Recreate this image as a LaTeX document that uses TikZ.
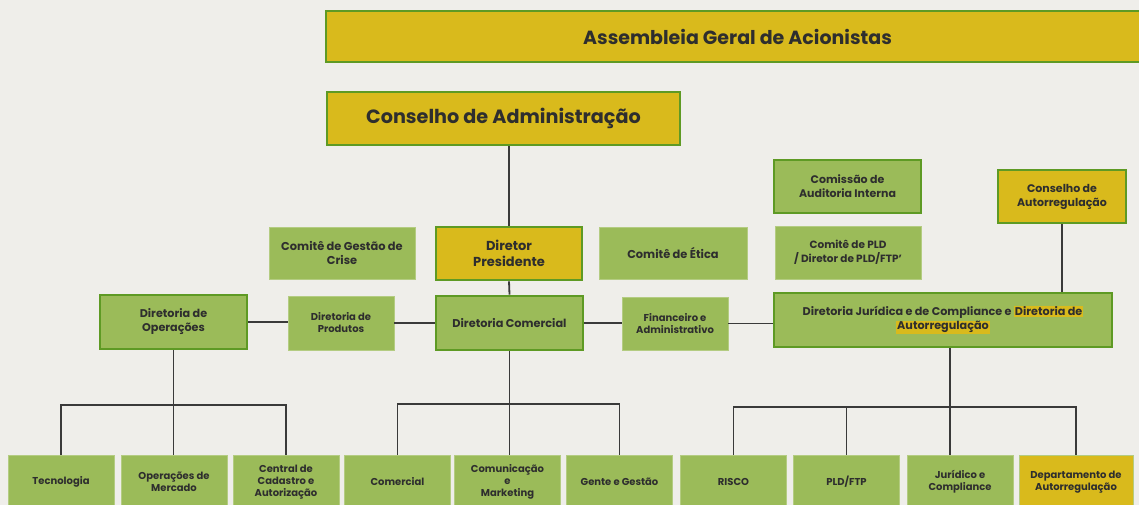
\documentclass[tikz,border=0pt]{standalone}
\usepackage{fontspec}
\setmainfont{Poppins}
\usepackage{xcolor}
\definecolor{fundo}{HTML}{EFEEEA}
\definecolor{verde}{HTML}{9BBB59}
\definecolor{verdeescuro}{HTML}{5E9A24}
\definecolor{ouro}{HTML}{D9BA1C}
\definecolor{texto}{HTML}{2E2E2E}
\definecolor{linha}{HTML}{3A3A3A}
\newcommand{\realce}[1]{{\setlength{\fboxsep}{1pt}\colorbox{ouro}{#1}}}

\begin{document}
\begin{tikzpicture}[x=1pt,y=-1pt,
    caixa/.style={fill=verde,draw=verde!75!white,line width=0.8pt,text=texto,align=center,inner sep=2pt,
      font=\bfseries\fontsize{10}{12}\selectfont},
    chefe/.style={caixa,draw=verdeescuro,line width=2.6pt},
    dourada/.style={fill=ouro},
    base/.style={caixa,minimum width=106pt,minimum height=54pt},
    liga/.style={draw=linha,line width=1.8pt}
  ]
  \path[use as bounding box,fill=fundo] (0,0) rectangle (1139,505);

  % topo
  \node[chefe,dourada,minimum width=823pt,minimum height=51pt,font=\bfseries\fontsize{19}{22}\selectfont] (assembleia) at (737.5,36.5) {Assembleia Geral de Acionistas};
  \node[chefe,dourada,minimum width=353pt,minimum height=53pt,font=\bfseries\fontsize{19.2}{22}\selectfont] (conselho) at (503.5,118.5) {Conselho de Administração};

  % presidencia e comites
  \node[chefe,dourada,minimum width=146pt,minimum height=53pt,font=\bfseries\fontsize{13}{16}\selectfont] (presidente) at (509,253.5) {Diretor\\Presidente};
  \node[caixa,minimum width=146pt,minimum height=52pt,font=\bfseries\fontsize{11.4}{14}\selectfont] (crise) at (342,253) {Comitê de Gestão de\\Crise};
  \node[caixa,minimum width=148pt,minimum height=52pt,font=\bfseries\fontsize{11.4}{14}\selectfont] (etica) at (673,253) {Comitê de Ética};
  \node[chefe,minimum width=147pt,minimum height=53pt,font=\bfseries\fontsize{11}{14}\selectfont] (auditoria) at (847.5,186.5) {Comissão de\\Auditoria Interna};
  \node[caixa,minimum width=146pt,minimum height=53pt,font=\bfseries\fontsize{10.5}{14}\selectfont] (pld) at (848,252.5) {Comitê de PLD\\/ Diretor de PLD/FTP’};
  \node[chefe,dourada,minimum width=128pt,minimum height=53pt,font=\bfseries\fontsize{11}{14}\selectfont] (autorreg) at (1062,196.5) {Conselho de\\Autorregulação};

  % diretorias
  \node[chefe,minimum width=147pt,minimum height=54pt,font=\bfseries\fontsize{11.2}{14}\selectfont] (operacoes) at (173.5,322) {Diretoria de\\Operações};
  \node[caixa,minimum width=106pt,minimum height=54pt] (produtos) at (341,323) {Diretoria de\\Produtos};
  \node[chefe,minimum width=147pt,minimum height=54pt,font=\bfseries\fontsize{11.3}{14}\selectfont] (comercial) at (509.5,323) {Diretoria Comercial};
  \node[caixa,minimum width=106pt,minimum height=53pt] (financeiro) at (675,323.5) {Financeiro e\\Administrativo};
  \node[chefe,minimum width=338pt,minimum height=54pt,font=\bfseries\fontsize{11.2}{14}\selectfont] (juridica) at (943,320) {Diretoria Jurídica e de Compliance e \realce{Diretoria de}\\\realce{Autorregulação}};

  % areas
  \node[base] (tecnologia) at (61,482) {Tecnologia};
  \node[base] (mercado) at (174,482) {Operações de\\Mercado};
  \node[base] (cadastro) at (286,482) {Central de\\Cadastro e\\Autorização};
  \node[base] (vendas) at (397.5,482) {Comercial};
  \node[base] (marketing) at (507.5,482) {Comunicação\\e\\Marketing};
  \node[base] (gente) at (619.5,482) {Gente e Gestão};
  \node[base] (risco) at (733.5,482) {RISCO};
  \node[base] (ftp) at (846.5,482) {PLD/FTP};
  \node[base] (compliance) at (960,482) {Jurídico e\\Compliance};
  \node[base,dourada,minimum width=114pt] (departamento) at (1076,482) {Departamento de\\Autorregulação};

  % ligacoes
  \draw[liga] (presidente.north) -- (presidente.north |- conselho.south);
  \draw[liga] (presidente.south) -- (comercial.north);
  \draw[liga] (autorreg.south) -- (autorreg.south |- juridica.north);
  \draw[liga] (operacoes.east) -- (operacoes.east -| produtos.west);
  \draw[liga] (produtos.east) -- (produtos.east -| comercial.west);
  \draw[liga] (comercial.east) -- (comercial.east -| financeiro.west);
  \draw[liga] (financeiro.east) -- (financeiro.east -| juridica.west);

  \draw[liga] (operacoes.south) -- (operacoes.south |- mercado.north);
  \draw[liga] (tecnologia.north) -- ++(0,-50) -| (cadastro.north);
  \draw[liga] (comercial.south) -- (comercial.south |- marketing.north);
  \draw[liga] (vendas.north) -- ++(0,-51) -| (gente.north);
  \draw[liga] ([xshift=7pt]juridica.south) -- ([xshift=7pt]juridica.south |- compliance.north);
  \draw[liga] (risco.north) -- ++(0,-48) -| (departamento.north);
  \draw[liga] (ftp.north) -- ++(0,-48);
\end{tikzpicture}
\end{document}
